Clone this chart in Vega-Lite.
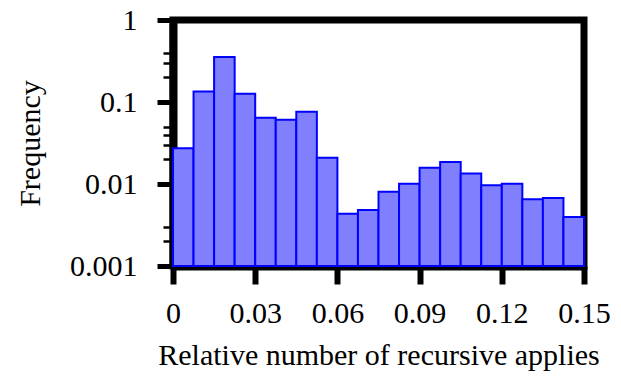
{
  "$schema": "https://vega.github.io/schema/vega-lite/v6.json",
  "autosize": {"type": "none"},
  "width": 411,
  "height": 246,
  "padding": {"left": 173, "top": 20, "right": 37, "bottom": 111},
  "background": "white",
  "config": {
    "view": {"stroke": "black", "strokeWidth": 7},
    "axis": {
      "labelFont": "Liberation Serif",
      "titleFont": "Liberation Serif",
      "labelFontSize": 30,
      "titleFontSize": 30,
      "labelColor": "black",
      "titleColor": "black",
      "titleFontWeight": "normal",
      "domainColor": "black",
      "domainWidth": 8,
      "tickColor": "black",
      "grid": false
    }
  },
  "data": {
    "values": [
      {"start": 0.0, "end": 0.0075, "freq": 0.0272},
      {"start": 0.0075, "end": 0.015, "freq": 0.134},
      {"start": 0.015, "end": 0.0225, "freq": 0.354},
      {"start": 0.0225, "end": 0.03, "freq": 0.126},
      {"start": 0.03, "end": 0.0375, "freq": 0.0644},
      {"start": 0.0375, "end": 0.045, "freq": 0.0608},
      {"start": 0.045, "end": 0.0525, "freq": 0.0762},
      {"start": 0.0525, "end": 0.06, "freq": 0.0209},
      {"start": 0.06, "end": 0.0675, "freq": 0.00435},
      {"start": 0.0675, "end": 0.075, "freq": 0.00482},
      {"start": 0.075, "end": 0.0825, "freq": 0.00805},
      {"start": 0.0825, "end": 0.09, "freq": 0.0101},
      {"start": 0.09, "end": 0.0975, "freq": 0.0158},
      {"start": 0.0975, "end": 0.105, "freq": 0.0185},
      {"start": 0.105, "end": 0.1125, "freq": 0.0134},
      {"start": 0.1125, "end": 0.12, "freq": 0.00964},
      {"start": 0.12, "end": 0.1275, "freq": 0.0101},
      {"start": 0.1275, "end": 0.135, "freq": 0.0065},
      {"start": 0.135, "end": 0.1425, "freq": 0.00675},
      {"start": 0.1425, "end": 0.15, "freq": 0.00396}
    ]
  },
  "mark": {"type": "bar", "fill": "#8080ff", "stroke": "#0000ff", "strokeWidth": 2, "opacity": 1},
  "encoding": {
    "x": {
      "field": "start",
      "type": "quantitative",
      "scale": {"domain": [0, 0.15], "nice": false, "zero": false},
      "axis": {
        "title": "Relative number of recursive applies",
        "values": [0, 0.03, 0.06, 0.09, 0.12, 0.15],
        "format": ".2~f",
        "tickSize": 18,
        "tickWidth": 6,
        "labelPadding": 14,
        "titlePadding": 12,
        "labelFlush": false
      }
    },
    "x2": {"field": "end"},
    "y": {
      "field": "freq",
      "type": "quantitative",
      "scale": {"type": "log", "domain": [0.001, 1], "nice": false},
      "axis": {
        "title": "Frequency",
        "values": [0.001, 0.002, 0.003, 0.01, 0.02, 0.03, 0.04, 0.05, 0.1, 0.2, 0.3, 0.4, 1],
        "labelExpr": "datum.value == 1 ? '1' : datum.value == 0.1 ? '0.1' : datum.value == 0.01 ? '0.01' : datum.value == 0.001 ? '0.001' : ''",
        "tickSize": {"condition": {"test": "datum.value == 1 || datum.value == 0.1 || datum.value == 0.01 || datum.value == 0.001", "value": 16}, "value": 10},
        "tickWidth": {"condition": {"test": "datum.value == 1 || datum.value == 0.1 || datum.value == 0.01 || datum.value == 0.001", "value": 5}, "value": 2.5},
        "labelPadding": 20,
        "titlePadding": 24,
        "labelFlush": false
      }
    },
    "y2": {"datum": 0.001}
  }
}
